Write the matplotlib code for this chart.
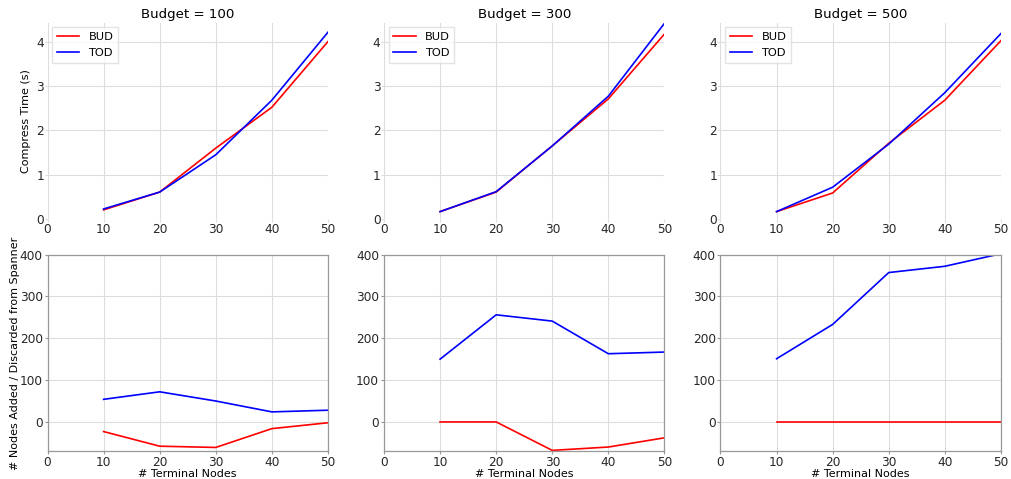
import numpy as np
import matplotlib
matplotlib.use('Agg')
from matplotlib import pyplot as plt

# data
terminals = [10, 20, 30, 40, 50]
budgets = [100, 300, 500]

bud_time = [
    [0.21, 0.61, 1.60, 2.52, 4.00],
    [0.17, 0.61, 1.65, 2.71, 4.17],
    [0.17, 0.59, 1.71, 2.68, 4.02],
]
tod_time = [
    [0.23, 0.61, 1.45, 2.68, 4.21],
    [0.17, 0.62, 1.65, 2.77, 4.41],
    [0.17, 0.72, 1.69, 2.85, 4.18],
]
bud_nodes = [
    [-23, -58, -61, -16, -2],
    [0, 0, -68, -60, -38],
    [0, 0, 0, 0, 0],
]
tod_nodes = [
    [54, 72, 50, 24, 28],
    [150, 256, 241, 163, 167],
    [151, 233, 357, 372, 402],
]

plt.rcParams['font.family'] = 'DejaVu Sans'
plt.rcParams['font.size'] = 8

fig, axes = plt.subplots(2, 3, figsize=(10.11, 4.79), dpi=100)
fig.subplots_adjust(left=0.047, right=0.99, top=0.953, bottom=0.058,
                    wspace=0.2, hspace=0.18)

time_max = max(max(r) for r in bud_time + tod_time)
node_min = min(min(r) for r in bud_nodes + tod_nodes)

for i, b in enumerate(budgets):
    # compress time
    ax = axes[0, i]
    ax.plot(terminals, bud_time[i], color='red', lw=1.2, label='BUD')
    ax.plot(terminals, tod_time[i], color='blue', lw=1.2, label='TOD')
    ax.set_xlim(0, 50)
    ax.set_ylim(0, time_max + 0.02)
    ax.set_yticks([0, 1, 2, 3, 4])
    ax.set_title('Budget = %d' % b, fontsize=9.6, pad=3)
    ax.grid(True, color='#dddddd', lw=0.8)
    ax.set_axisbelow(True)
    for s in ax.spines.values():
        s.set_visible(False)
    ax.tick_params(labelsize=8.7, length=2, color='#dddddd', pad=0.5, labelcolor='#262626')
    ax.legend(loc='upper left', fontsize=8.2, frameon=True, fancybox=False,
              edgecolor='#dddddd', handlelength=2, borderaxespad=0.4,
              labelspacing=0.6)
    if i == 0:
        ax.set_ylabel('Compress Time (s)', fontsize=8, labelpad=4)

    # nodes added / discarded
    ax = axes[1, i]
    ax.plot(terminals, bud_nodes[i], color='red', lw=1.2)
    ax.plot(terminals, tod_nodes[i], color='blue', lw=1.2)
    ax.set_xlim(0, 50)
    ax.set_ylim(node_min - 2, 400)
    ax.set_yticks([0, 100, 200, 300, 400])
    ax.grid(True, color='#dddddd', lw=0.8)
    ax.set_axisbelow(True)
    for s in ax.spines.values():
        s.set_color('#999999')
        s.set_linewidth(0.9)
    ax.tick_params(labelsize=8.7, length=2.5, color='#999999', pad=1, labelcolor='#262626')
    ax.set_xlabel('# Terminal Nodes', fontsize=8, labelpad=0)
    if i == 0:
        ax.set_ylabel('# Nodes Added / Discarded from Spanner', fontsize=8, labelpad=0)

fig.savefig('out.png', dpi=100)
